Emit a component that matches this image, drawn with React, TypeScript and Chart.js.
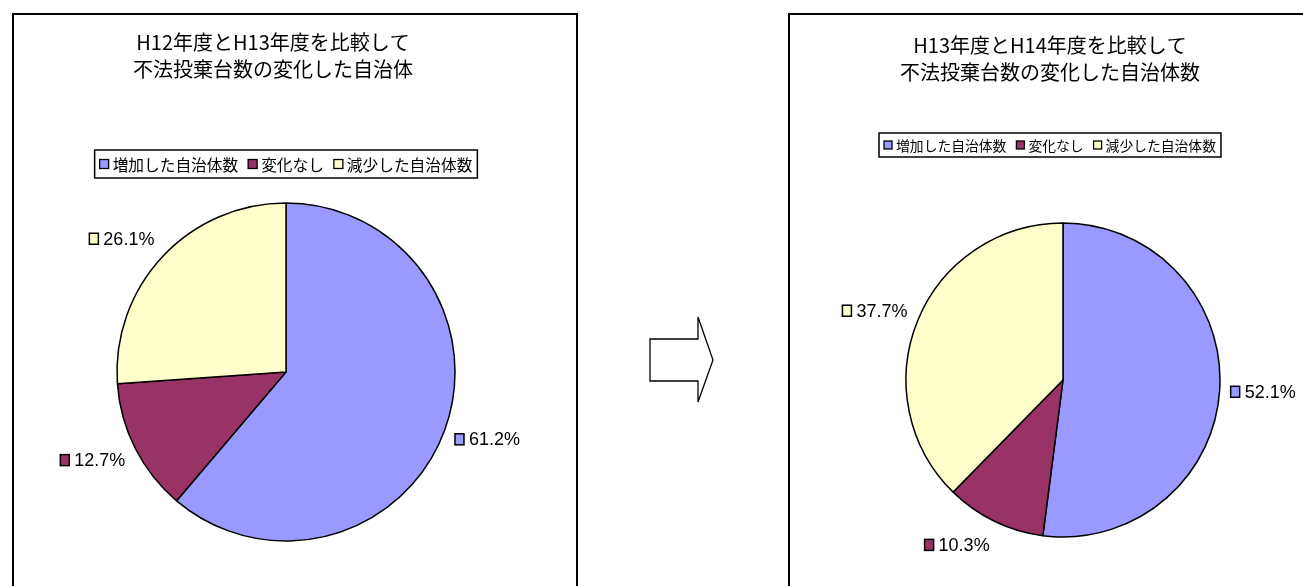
import React, { useEffect, useRef } from "react";
import { Chart, ArcElement, PieController } from "chart.js";

Chart.register(ArcElement, PieController);

// ---- data ----
const CATEGORIES = ["増加した自治体数", "変化なし", "減少した自治体数"];
const COLORS = ["#9999FF", "#993366", "#FFFFCC"];
const LEFT_TITLE = ["H12年度とH13年度を比較して", "不法投棄台数の変化した自治体"];
const LEFT_VALUES = [61.2, 12.7, 26.1];
const RIGHT_TITLE = ["H13年度とH14年度を比較して", "不法投棄台数の変化した自治体数"];
const RIGHT_VALUES = [52.1, 10.3, 37.7];

const JP_FONT = '"Noto Sans CJK JP", "Noto Sans", sans-serif';
const NUM_FONT = '"Liberation Sans", Arial, sans-serif';

type PanelCfg = {
  left: number;
  top: number;
  width: number;
  height: number;
  cx: number;
  cy: number;
  radius: number;
  title: string[];
  titleX: number;
  titleY: number;
  titleLH: number;
  titleSize: number;
  legendX: number;
  legendTop: number;
  legendH: number;
  legendSize: number;
  labelSize: number;
  labelGap: number;
  borders: { left: boolean; top: boolean; right: boolean };
};

const decorPlugin = {
  id: "excelDecor",
  beforeDraw(chart: any, _args: any, opts: any) {
    const ctx = chart.ctx as CanvasRenderingContext2D;
    const { width, height } = chart;
    ctx.save();
    ctx.fillStyle = "#fff";
    ctx.fillRect(0, 0, width, height);
    ctx.strokeStyle = "#000";
    ctx.lineWidth = 2;
    ctx.beginPath();
    if (opts.borders.left) {
      ctx.moveTo(1, height + 5);
      ctx.lineTo(1, 1);
    }
    if (opts.borders.top) {
      ctx.moveTo(0, 1);
      ctx.lineTo(width, 1);
    }
    if (opts.borders.right) {
      ctx.moveTo(width - 1, 0);
      ctx.lineTo(width - 1, height + 5);
    }
    ctx.stroke();
    ctx.restore();
  },
  afterDraw(chart: any, _args: any, opts: any) {
    const ctx = chart.ctx as CanvasRenderingContext2D;
    const labels: string[] = chart.data.labels;
    const ds = chart.data.datasets[0];
    const colors: string[] = ds.backgroundColor;
    ctx.save();

    // title
    ctx.fillStyle = "#000";
    ctx.textAlign = "center";
    ctx.textBaseline = "middle";
    ctx.font = `${opts.titleSize}px ${JP_FONT}`;
    opts.title.forEach((line: string, i: number) => {
      ctx.fillText(line, opts.titleX, opts.titleY + i * opts.titleLH);
    });

    // legend (boxed)
    ctx.font = `${opts.legendSize}px ${JP_FONT}`;
    const key = Math.round(opts.legendSize * 0.58);
    const keyGap = 4;
    const itemGap = 10;
    const padX = 5;
    const widths = labels.map((l) => key + keyGap + ctx.measureText(l).width);
    const total = widths.reduce((a, b) => a + b, 0) + itemGap * (labels.length - 1) + padX * 2;
    const bx = opts.legendX - total / 2;
    const by = opts.legendTop;
    ctx.fillStyle = "#fff";
    ctx.fillRect(bx, by, total, opts.legendH);
    ctx.strokeStyle = "#000";
    ctx.lineWidth = 1.5;
    ctx.strokeRect(bx, by, total, opts.legendH);
    let x = bx + padX;
    const my = by + opts.legendH / 2;
    ctx.textAlign = "left";
    labels.forEach((l, i) => {
      ctx.fillStyle = colors[i];
      ctx.fillRect(x, my - key / 2, key, key);
      ctx.lineWidth = 1.3;
      ctx.strokeStyle = "#000";
      ctx.strokeRect(x, my - key / 2, key, key);
      ctx.fillStyle = "#000";
      ctx.fillText(l, x + key + keyGap, my + 1);
      x += widths[i] + itemGap;
    });

    // data labels with legend key
    const meta = chart.getDatasetMeta(0);
    ctx.font = `${opts.labelSize}px ${NUM_FONT}`;
    const lkW = 9;
    const lkH = 11;
    const lkGap = 5;
    const h = opts.labelSize;
    meta.data.forEach((arc: any, i: number) => {
      const p = arc.getProps(["x", "y", "startAngle", "endAngle", "outerRadius"], true);
      const mid = (p.startAngle + p.endAngle) / 2;
      const dx = Math.cos(mid);
      const dy = Math.sin(mid);
      const ax = p.x + (p.outerRadius + opts.labelGap) * dx;
      const ay = p.y + (p.outerRadius + opts.labelGap) * dy;
      const text = `${Number(ds.data[i]).toFixed(1)}%`;
      const w = lkW + lkGap + ctx.measureText(text).width;
      const cxl = ax + (dx >= 0 ? 1 : -1) * (w / 2);
      const cyl = ay + dy * h * 0.85;
      const left = cxl - w / 2;
      ctx.fillStyle = colors[i];
      ctx.fillRect(left, cyl - lkH / 2, lkW, lkH);
      ctx.lineWidth = 1.5;
      ctx.strokeStyle = "#000";
      ctx.strokeRect(left, cyl - lkH / 2, lkW, lkH);
      ctx.fillStyle = "#000";
      ctx.textAlign = "left";
      ctx.textBaseline = "middle";
      ctx.fillText(text, left + lkW + lkGap, cyl + 1);
    });
    ctx.restore();
  },
};

const LEFT_PANEL: PanelCfg = {
  left: 12,
  top: 13,
  width: 566,
  height: 573,
  cx: 274,
  cy: 359,
  radius: 169,
  title: LEFT_TITLE,
  titleX: 261,
  titleY: 29,
  titleLH: 27,
  titleSize: 20,
  legendX: 274,
  legendTop: 137,
  legendH: 28,
  legendSize: 15.7,
  labelSize: 18,
  labelGap: 11,
  borders: { left: true, top: true, right: true },
};

const RIGHT_PANEL: PanelCfg = {
  left: 788,
  top: 13,
  width: 515,
  height: 573,
  cx: 275,
  cy: 367,
  radius: 157,
  title: RIGHT_TITLE,
  titleX: 262,
  titleY: 32,
  titleLH: 27,
  titleSize: 20,
  legendX: 262,
  legendTop: 120,
  legendH: 24,
  legendSize: 13.8,
  labelSize: 18,
  labelGap: 11,
  borders: { left: true, top: true, right: false },
};

function PiePanel({ cfg, values }: { cfg: PanelCfg; values: number[] }) {
  const ref = useRef<HTMLCanvasElement | null>(null);
  useEffect(() => {
    const canvas = ref.current;
    if (!canvas) return;
    const chart = new Chart(canvas, {
      type: "pie",
      data: {
        labels: CATEGORIES,
        datasets: [
          {
            data: values,
            backgroundColor: COLORS,
            borderColor: "#000",
            borderWidth: 1.5,
            radius: cfg.radius,
          } as any,
        ],
      },
      options: {
        responsive: false,
        animation: false,
        devicePixelRatio: 1,
        events: [],
        layout: {
          padding: {
            left: cfg.cx - cfg.radius,
            top: cfg.cy - cfg.radius,
            right: cfg.width - (cfg.cx + cfg.radius),
            bottom: cfg.height - (cfg.cy + cfg.radius),
          },
        },
        plugins: {
          excelDecor: cfg,
        } as any,
      },
      plugins: [decorPlugin],
    });
    let alive = true;
    if ((document as any).fonts && (document as any).fonts.ready) {
      (document as any).fonts.ready.then(() => {
        if (alive) chart.draw();
      });
    }
    return () => {
      alive = false;
      chart.destroy();
    };
  }, [cfg, values]);
  return (
    <canvas
      ref={ref}
      width={cfg.width}
      height={cfg.height}
      style={{
        position: "absolute",
        left: cfg.left,
        top: cfg.top,
        width: cfg.width,
        height: cfg.height,
      }}
    />
  );
}

export default function App() {
  return (
    <div
      style={{
        position: "fixed",
        left: 0,
        top: 0,
        width: 1303,
        height: 586,
        overflow: "hidden",
        background: "#fff",
      }}
    >
      <PiePanel cfg={LEFT_PANEL} values={LEFT_VALUES} />
      <PiePanel cfg={RIGHT_PANEL} values={RIGHT_VALUES} />
      <svg
        width={80}
        height={100}
        style={{ position: "absolute", left: 640, top: 310 }}
      >
        <polygon
          points="10,29 58,29 58,7 73,50 58,92 58,71 10,71"
          fill="#fff"
          stroke="#000"
          strokeWidth={1.3}
        />
      </svg>
    </div>
  );
}
